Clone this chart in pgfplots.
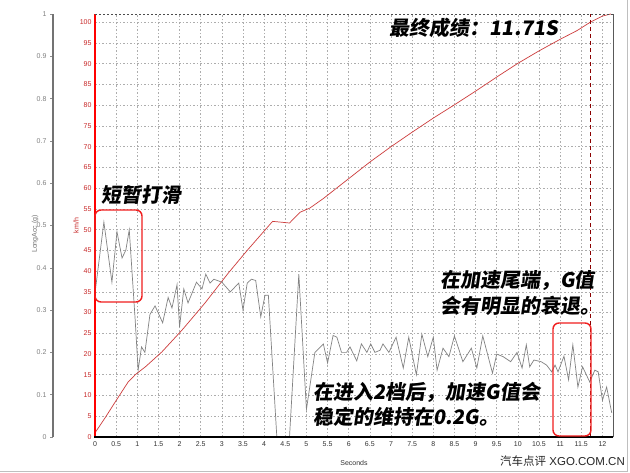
\documentclass[border=0pt]{standalone}
\usepackage{pgfplots}
\pgfplotsset{compat=1.18}
\usepackage{fontspec}
\setmainfont{Liberation Sans}
\newfontfamily\cjk{Noto Sans CJK SC}
\newfontfamily\cjkb[FakeSlant=0.15]{Noto Sans CJK SC}
\definecolor{spd}{RGB}{205,60,60}
\definecolor{acc}{RGB}{130,130,130}
\definecolor{tickred}{RGB}{200,40,40}
\definecolor{boxred}{RGB}{240,30,30}
\begin{document}
\begin{tikzpicture}
\begin{scope}[x=1pt,y=1pt]
\useasboundingbox (0,0) rectangle (630,473);
\fill[white] (0,0) rectangle (630,473);
\draw[black!25,line width=1pt] (0,1) -- (627,1) -- (627,473);
\end{scope}

% LongAcc scale
\begin{axis}[at={(53pt,36pt)},anchor=south west,scale only axis,width=20pt,height=423pt,
 xmin=0,xmax=1,ymin=0,ymax=1, hide x axis, axis y line=left,
 y axis line style={draw=black!55,line width=2.5pt,-},
 ytick={0,0.1,0.2,0.3,0.4,0.5,0.6,0.7,0.8,0.9,1},
 yticklabels={0,0.1,0.2,0.3,0.4,0.5,0.6,0.7,0.8,0.9,1},
 ytick style={draw=black!45,line width=0.5pt}, major tick length=3pt, tick align=outside,
 yticklabel style={font=\fontsize{7}{8}\selectfont,text=black!50},
 ylabel={LongAcc (g)},
 ylabel style={font=\fontsize{7}{8}\selectfont,text=black!55,at={(axis description cs:0,0.48)},yshift=18pt,anchor=center},
]
\end{axis}

% speed axis
\begin{axis}[at={(95pt,36pt)},anchor=south west,scale only axis,width=518pt,height=423pt,
 xmin=0,xmax=12.25,ymin=0,ymax=102,
 axis line style={draw=none},
 xtick distance=0.5, ytick={0,5,...,100},
 grid=major, major grid style={draw=black!32,line width=0.6pt,dash pattern=on 1.5pt off 2pt},
 major tick length=0pt,
 xticklabel style={font=\fontsize{7}{8}\selectfont,text=black!80,yshift=-1.5pt},
 yticklabel style={font=\fontsize{7}{8}\selectfont,text=tickred},
 /pgf/number format/assume math mode=true,
 xlabel={Seconds},
 xlabel style={font=\fontsize{7}{8}\selectfont,text=black!80,at={(axis description cs:0.5,0)},yshift=-26pt,anchor=center},
 ylabel={km/h},
 ylabel style={font=\fontsize{7}{8}\selectfont,text=tickred,at={(axis description cs:0,0.5)},yshift=19pt,anchor=center},
]
\addplot[spd, line width=0.7pt] table {
t v
0 1
0.25 4.8
0.5 8.8
0.78 13.2
0.95 15
1.2 17
1.58 20.5
2.06 25.8
2.6 32.3
3.15 39.5
3.6 45
3.9 48.5
4.2 52
4.4 51.8
4.6 51.6
4.85 54.2
5.08 55.2
5.4 57.5
6.0 62.3
6.5 66.3
7.0 70.0
7.5 73.5
8.0 76.9
8.5 80.1
9.0 83.4
9.5 86.8
10.0 90.1
10.5 93.1
11.0 95.9
11.4 98.0
11.71 100
12.0 101.5
12.2 102
};
\addplot[red!55!black, line width=0.8pt, dash pattern=on 4pt off 3pt] coordinates {(11.71,0) (11.71,102)};
\end{axis}

% acceleration data
\begin{axis}[at={(95pt,36pt)},anchor=south west,scale only axis,width=518pt,height=423pt,
 xmin=0,xmax=12.25,ymin=0,ymax=1, hide axis]
\addplot[acc, line width=0.7pt] table {
t g
0 0.34
0.21 0.508
0.4 0.366
0.52 0.485
0.64 0.423
0.73 0.442
0.81 0.49
0.95 0.277
1.02 0.158
1.1 0.213
1.18 0.2
1.3 0.29
1.42 0.31
1.6 0.27
1.73 0.33
1.82 0.305
1.94 0.36
2.0 0.26
2.1 0.35
2.2 0.317
2.4 0.366
2.53 0.35
2.62 0.385
2.72 0.364
2.81 0.373
3.0 0.366
3.2 0.343
3.4 0.364
3.5 0.30
3.6 0.364
3.7 0.373
3.8 0.37
3.92 0.284
4.02 0.335
4.1 0.335
4.3 0
4.6 0
4.82 0.385
5.0 0.065
5.2 0.2
5.4 0.22
5.5 0.175
5.63 0.24
5.72 0.236
5.83 0.2
5.95 0.2
6.03 0.213
6.19 0.18
6.3 0.22
6.43 0.2
6.52 0.22
6.62 0.2
6.74 0.205
6.81 0.22
6.95 0.2
7.12 0.236
7.29 0.163
7.42 0.236
7.6 0.147
7.73 0.243
7.87 0.19
8.0 0.236
8.09 0.158
8.23 0.21
8.37 0.19
8.5 0.239
8.7 0.178
8.9 0.21
9.03 0.163
9.17 0.239
9.4 0.151
9.5 0.196
9.65 0.19
9.83 0.178
9.98 0.2
10.1 0.163
10.2 0.218
10.28 0.166
10.38 0.182
10.55 0.178
10.68 0.17
10.8 0.154
10.88 0.17
10.95 0.154
11.09 0.191
11.2 0.135
11.3 0.218
11.42 0.118
11.53 0.166
11.7 0.13
11.82 0.158
11.9 0.154
12.0 0.087
12.1 0.118
12.22 0.057
};
\end{axis}

\begin{scope}[x=1pt,y=1pt]
% frame
\draw[red, line width=2.5pt] (95,36) -- (95,459);
\draw[black, line width=1.8pt] (94,36) -- (613,36);
\draw[black!70, line width=0.6pt, dash pattern=on 2pt off 2pt] (95,459) -- (613,459);
\draw[black!65, line width=0.8pt] (613,36) -- (613,459);

% annotation boxes
\draw[boxred, line width=1.4pt, rounded corners=6pt] (95,263) rectangle (142,171);
\draw[boxred, line width=1.4pt, rounded corners=6pt] (553,150) rectangle (591,37);

% annotation texts
\node[font=\cjkb\bfseries\fontsize{20}{24}\selectfont] at (474,445) {最终成绩：11.71S};
\node[font=\cjkb\bfseries\fontsize{20}{24}\selectfont] at (141,278) {短暂打滑};
\node[anchor=west,inner sep=0pt,font=\cjkb\bfseries\fontsize{20}{24}\selectfont] at (440,193) {在加速尾端，G值};
\node[anchor=west,inner sep=0pt,font=\cjkb\bfseries\fontsize{20}{24}\selectfont] at (440,167) {会有明显的衰退。};
\node[anchor=west,inner sep=0pt,font=\cjkb\bfseries\fontsize{20}{24}\selectfont] at (313,81) {在进入2档后，加速G值会};
\node[anchor=west,inner sep=0pt,font=\cjkb\bfseries\fontsize{20}{24}\selectfont] at (313,56) {稳定的维持在0.2G。};
\node[anchor=east,inner sep=0pt,font=\fontsize{11.5}{13}\selectfont,text=black!85] at (625,12) {{\cjk 汽车点评} XGO.COM.CN};
\end{scope}
\end{tikzpicture}
\end{document}
